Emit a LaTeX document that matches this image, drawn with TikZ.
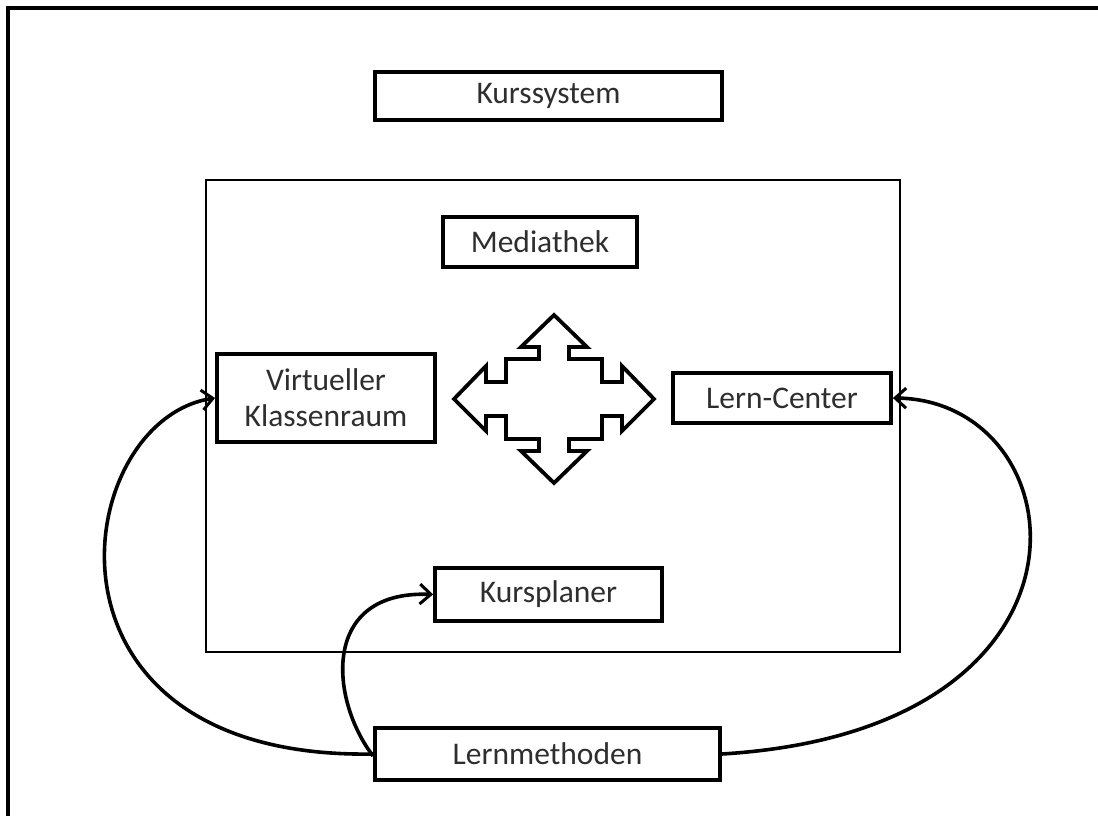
\documentclass[tikz,border=0pt]{standalone}
\usepackage{fontspec}
\setmainfont{Carlito}
\usetikzlibrary{arrows.meta}
\begin{document}
\begin{tikzpicture}[x=1pt,y=-1pt,
  box/.style={draw=black,line width=3.8pt,fill=white,inner sep=0pt,text=black!82,
    font=\fontsize{31.5}{36}\selectfont,align=center},
  frameline/.style={line width=4pt},
  conn/.style={line width=3.6pt,-{Straight Barb[length=11pt,width=20pt,line width=3pt]}},
  crossarrow/.style={line width=3.8pt,line join=miter}]
\useasboundingbox (0,0) rectangle (1098,816);
% outer frame (top and left only visible)
\coordinate (fTL) at (8,8);
\coordinate (fTR) at (1100,8);
\coordinate (fBL) at (8,818);
\draw[frameline] (fTR) -- (fTL) -- (fBL);
% big rectangle
\node[draw,line width=2.6pt,minimum width=694pt,minimum height=472pt,inner sep=0pt] (sys) at (553,416) {};
% boxes
\node[box,minimum width=347pt,minimum height=48pt] (kurssystem) at (548.5,96) {Kurssystem};
\node[box,minimum width=194pt,minimum height=50pt] (mediathek) at (540,242) {Mediathek};
\node[box,minimum width=218pt,minimum height=88pt] (virt) at (326,398) {Virtueller\\[0pt]Klassenraum};
\node[box,minimum width=218pt,minimum height=50pt] (lern) at (782,398) {Lern-Center};
\node[box,minimum width=227pt,minimum height=53pt] (kursplaner) at (548.5,594.5) {Kursplaner};
\node[box,minimum width=345pt,minimum height=52pt] (methoden) at (547.5,754) {Lernmethoden};
% four-way arrow
\coordinate (c) at (554,399);
\draw[crossarrow] (c) ++(0,-84) -- ++(33,32) -- ++(-18,0) -- ++(0,12) -- ++(33,0) -- ++(0,23)
  -- ++(20,0) -- ++(0,-16) -- ++(32,33) -- ++(-32,32) -- ++(0,-15) -- ++(-20,0) -- ++(0,23)
  -- ++(-33,0) -- ++(0,12) -- ++(18,0) -- ++(-33,32) -- ++(-33,-32) -- ++(18,0) -- ++(0,-12)
  -- ++(-33,0) -- ++(0,-23) -- ++(-20,0) -- ++(0,15) -- ++(-32,-32) -- ++(32,-33) -- ++(0,16)
  -- ++(20,0) -- ++(0,-23) -- ++(33,0) -- ++(0,-12) -- ++(-18,0) -- cycle;
% connectors
\draw[conn] (methoden.west) .. controls (20,760) and (70,420) .. (virt.west);
\draw[conn] (methoden.east) .. controls (1120,730) and (1080,400) .. (lern.east);
\draw[conn] ([yshift=-2pt]methoden.west) .. controls (330,700) and (320,590) .. (kursplaner.west);
\end{tikzpicture}
\end{document}
